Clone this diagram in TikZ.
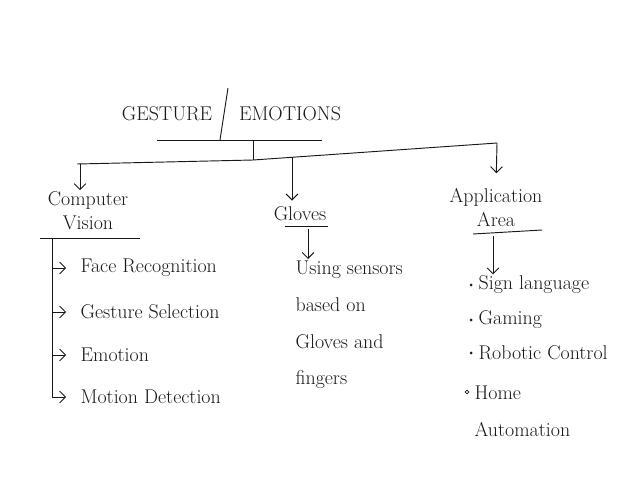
\documentclass[tikz,border=0pt]{standalone}
\usetikzlibrary{arrows.meta}
\begin{document}
\begin{tikzpicture}[x=0.03cm,y=-0.03cm,black!90,line width=0.8pt,
  txt/.style={inner sep=1pt,font=\fontsize{17}{20.5}\selectfont},
  arr/.style={-{Straight Barb[length=5pt,width=10pt]}}]
  \useasboundingbox (0,0) rectangle (629,477);
  \node[txt] (gest) at (167,114) {GESTURE};
  \node[txt] (emo) at (290,114) {EMOTIONS};
  \coordinate (slt) at (228,88);
  \coordinate (slb) at (220,140);
  \draw (slt) -- (slb);
  \coordinate (ttl) at (157,140);
  \coordinate (ttr) at (322,140);
  \draw (ttl) -- (ttr);
  \coordinate (stem) at (253,140);
  \coordinate (join) at (253,160);
  \coordinate (barl) at (77,164);
  \coordinate (barr) at (497,143);
  \draw (stem) -- (join);
  \draw (barl) -- (join) -- (barr);

  \node[txt,align=center] (cv) at (88,211) {Computer\\Vision};
  \coordinate (cva) at (80,164);
  \draw[arr] (cva) -- (cva |- cv.north);
  \coordinate (cvl) at (40,238);
  \coordinate (cvr) at (140,238);
  \draw (cvl) -- (cvr);
  \coordinate (cvt) at (52,238);
  \coordinate (cvb) at (52,397);
  \draw (cvt) -- (cvb);
  \foreach \y/\nm/\lab in {268/face/Face Recognition, 312/gsel/Gesture Selection,
      355/emot/Emotion, 397/motion/Motion Detection} {
    \node[txt,anchor=west] (\nm) at (79,\y) {\lab};
    \draw[arr,shorten >=11pt] (52,\y) -- (\nm.west);
  }

  \node[txt] (glv) at (300,214) {Gloves};
  \coordinate (glul) at (285,226);
  \coordinate (glur) at (328,226);
  \draw (glul) -- (glur);
  \coordinate (glva) at (292,157);
  \draw[arr,shorten >=4pt] (glva) -- (glva |- glv.north);
  \node[txt,align=left,anchor=north west,font=\fontsize{17}{31.5}\selectfont]
    (glvtxt) at (294,259) {Using sensors\\based on\\Gloves and\\fingers};
  \coordinate (glvb) at (308,229);
  \draw[arr] (glvb) -- (glvb |- glvtxt.north);

  \node[txt,align=center] (app) at (496,208) {Application\\Area};
  \draw[arr,shorten >=12pt] (barr) -- (app.north);
  \coordinate (apul) at (473,234);
  \coordinate (apur) at (542,230);
  \draw (apul) -- (apur);
  \foreach \y/\nm/\lab in {285/sign/Sign language, 320/game/Gaming,
      353/robot/Robotic Control} {
    \node[txt,anchor=west] (\nm) at (477,\y) {\lab};
    \fill ([xshift=-5pt]\nm.west) circle (1.3pt);
  }
  \coordinate (apa) at (493,236);
  \draw[arr] (apa) -- (apa |- sign.north);
  \node[txt,align=left,anchor=west,font=\fontsize{17}{31.5}\selectfont]
    (home) at (473,411) {Home\\Automation};
  \draw[line width=0.6pt] (467,392) circle (1.6pt);
\end{tikzpicture}
\end{document}
